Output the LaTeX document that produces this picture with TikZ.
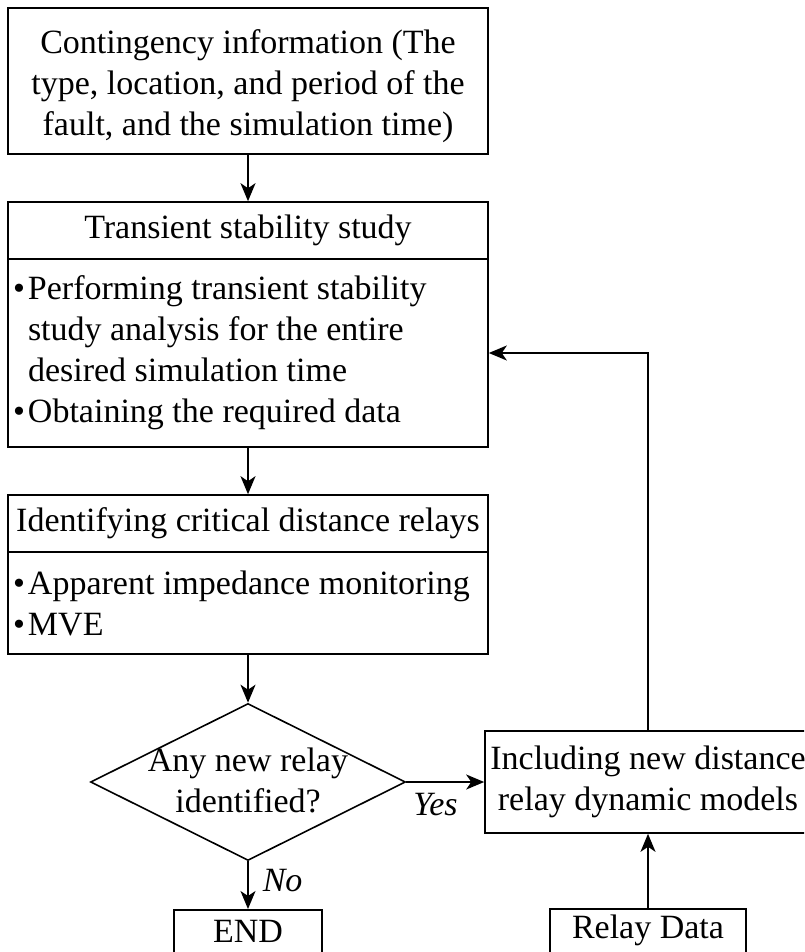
\documentclass[tikz,border=0pt]{standalone}
\usepackage{fontspec}
\setmainfont{Liberation Serif}
\usetikzlibrary{arrows.meta,positioning,shapes.geometric}

\newcommand{\blt}{\makebox[15pt][l]{\textbullet}}
\newcommand{\ind}{\hspace*{15pt}}

\begin{document}
\begin{tikzpicture}[x=1pt, y=-1pt,
  font=\fontsize{34}{41}\selectfont,
  box/.style={draw=black, line width=1.6pt, inner sep=0pt, align=center},
  body/.style={box, align=flush left, inner xsep=5pt, text width=470pt},
  dec/.style={draw=black, line width=1.6pt, diamond, inner sep=0pt,
              minimum width=315pt, minimum height=157pt},
  flow/.style={draw=black, line width=1.6pt, -{Stealth[length=18pt,width=15pt,inset=5pt]}},
  ans/.style={inner sep=0pt, font=\fontsize{34}{41}\selectfont\itshape}
]
\useasboundingbox (0,0) rectangle (804,952);
\clip (0,0) rectangle (804,952);
\fill[white] (0,0) rectangle (804,952);
\node[box, minimum width=480pt, minimum height=146pt] (info) at (248,81)
  {\rule{0pt}{34pt}Contingency information (The\\type, location, and period of the\\fault, and the simulation time)};
\node[box, minimum width=480pt, minimum height=57pt] (tss) at (248,230.5) {Transient stability study};
\node[body, minimum height=188pt] (tssbody) at (248,353)
  {\blt Performing transient stability\\\ind study analysis for the entire\\\ind desired simulation time\\\blt Obtaining the required data};
\node[box, minimum width=480pt, minimum height=57pt] (icdr) at (248,523.5) {Identifying critical distance relays};
\node[body, minimum height=102pt] (icdrbody) at (248,603)
  {\blt Apparent impedance monitoring\\\blt MVE};
\node[dec] (newrelay) at (248,782) {};
\node[align=center] (newrelaytxt) at (248,780) {Any new relay\\identified?};
\node[box, minimum width=326pt, minimum height=102pt] (incl) at (648,782)
  {Including new distance\\relay dynamic models};
\node[box, anchor=north, minimum width=148pt, text height=33pt, text depth=20pt] (fin) at (248,909) {END};
\node[box, anchor=north, minimum width=196pt, text height=30pt, text depth=22pt] (rdata) at (648,908) {Relay Data};
\draw[flow] (info) -- (tss);
\draw[flow] (tssbody) -- (icdr);
\draw[flow] (icdrbody) -- (newrelay);
\draw[flow] (newrelay) -- node[ans, pos=0.375, below=10pt] {Yes} (incl);
\draw[flow] (newrelay) -- node[ans, pos=0.4, right=14pt] {No} (fin);
\draw[flow] (rdata) -- (incl);
\draw[flow] (incl.north) |- (tssbody.east);
\end{tikzpicture}
\end{document}
